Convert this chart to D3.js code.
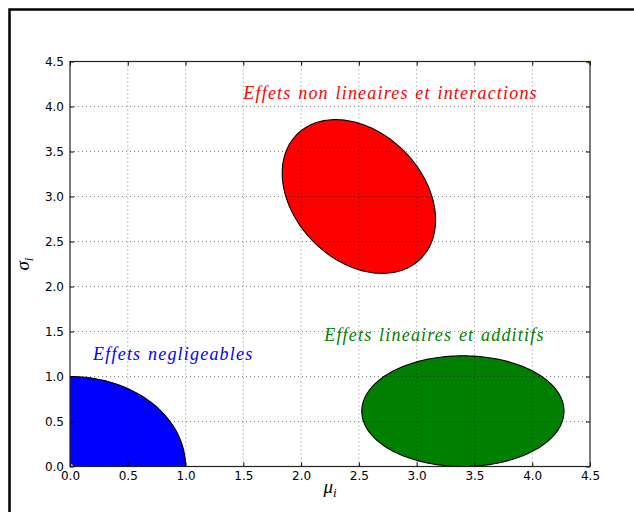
<!DOCTYPE html>
<html>
<head>
<meta charset="utf-8">
<script src="https://cdn.jsdelivr.net/npm/d3@7"></script>
<style>
  html, body { margin: 0; padding: 0; background: #fff; }
  svg { display: block; }
</style>
</head>
<body>
<svg id="chart" width="634" height="512"></svg>
<script>
// ---- data ----
const xTicks = [0.0, 0.5, 1.0, 1.5, 2.0, 2.5, 3.0, 3.5, 4.0, 4.5];
const yTicks = [0.0, 0.5, 1.0, 1.5, 2.0, 2.5, 3.0, 3.5, 4.0, 4.5];
const ellipseNames   = ["negligeables", "non lineaires", "lineaires"];
const ellipseCx      = [0.0, 2.5, 3.4];
const ellipseCy      = [0.0, 3.0, 0.615];
const ellipseWidth   = [2.0, 1.2, 1.75];
const ellipseHeight  = [2.0, 1.8, 1.23];
const ellipseAngle   = [0, 25, 0];
const ellipseColors  = ["#0000ff", "#ff0000", "#008000"];
const labelTexts  = ["Effets negligeables", "Effets non lineaires et interactions", "Effets lineaires et additifs"];
const labelX      = [0.2, 1.5, 2.2];
const labelY      = [1.18, 4.08, 1.4];
const labelColors = ["#0000ff", "#ff0000", "#008000"];
const cornerPointsX = [0.0, 4.5];
const cornerPointsY = [0.0, 4.5];

// ---- layout ----
const svg = d3.select("#chart");
const margin = {left: 70, top: 61.5, right: 44, bottom: 45.5};
const W = 634, H = 512;
const pw = W - margin.left - margin.right;   // 520
const ph = H - margin.top - margin.bottom;   // 405

const x = d3.scaleLinear().domain([0, 4.5]).range([margin.left, margin.left + pw]);
const y = d3.scaleLinear().domain([0, 4.5]).range([margin.top + ph, margin.top]);

// figure frame
svg.append("rect")
  .attr("x", 9.5).attr("y", 9.5)
  .attr("width", 640).attr("height", 520)
  .attr("fill", "none").attr("stroke", "#000").attr("stroke-width", 2.5);

svg.append("defs").append("clipPath").attr("id", "plotclip")
  .append("rect")
  .attr("x", margin.left).attr("y", margin.top)
  .attr("width", pw).attr("height", ph);

const plot = svg.append("g").attr("clip-path", "url(#plotclip)");

// ellipses
function ellipsePath(cx, cy, w, h, angDeg) {
  const th = angDeg * Math.PI / 180;
  const pts = d3.range(0, 361, 2).map(d => {
    const t = d * Math.PI / 180;
    const ex = (w / 2) * Math.cos(t), ey = (h / 2) * Math.sin(t);
    const dx = cx + ex * Math.cos(th) - ey * Math.sin(th);
    const dy = cy + ex * Math.sin(th) + ey * Math.cos(th);
    return [x(dx), y(dy)];
  });
  return d3.line().curve(d3.curveLinearClosed)(pts);
}
ellipseNames.forEach((n, i) => {
  plot.append("path")
    .attr("d", ellipsePath(ellipseCx[i], ellipseCy[i], ellipseWidth[i], ellipseHeight[i], ellipseAngle[i]))
    .attr("fill", ellipseColors[i])
    .attr("stroke", "#000").attr("stroke-width", 1.1);
});

// corner points (yellow markers)
cornerPointsX.forEach((cx, i) => {
  plot.append("circle")
    .attr("cx", x(cx)).attr("cy", y(cornerPointsY[i]))
    .attr("r", 3).attr("fill", "#bfbf00");
});

// grid (drawn above patches)
const grid = svg.append("g").attr("stroke", "#000").attr("stroke-width", 0.6)
  .attr("stroke-dasharray", "1,3").attr("opacity", 0.8);
xTicks.slice(1, -1).forEach(t => {
  grid.append("line").attr("x1", x(t)).attr("x2", x(t))
    .attr("y1", margin.top).attr("y2", margin.top + ph);
});
yTicks.slice(1, -1).forEach(t => {
  grid.append("line").attr("y1", y(t)).attr("y2", y(t))
    .attr("x1", margin.left).attr("x2", margin.left + pw);
});

// axes
const fmt = d3.format(".1f");
const axFont = "DejaVu Sans";
function styleAxis(g) {
  g.select(".domain").remove();
  g.selectAll(".tick line").attr("stroke", "#000").attr("stroke-width", 1);
  g.selectAll(".tick text").attr("font-family", axFont).attr("font-size", 12).attr("fill", "#000");
}
svg.append("g").attr("transform", `translate(0,${margin.top + ph})`)
  .call(d3.axisBottom(x).tickValues(xTicks).tickFormat(fmt).tickSize(-4).tickPadding(5))
  .call(styleAxis);
svg.append("g").attr("transform", `translate(${margin.left},0)`)
  .call(d3.axisLeft(y).tickValues(yTicks).tickFormat(fmt).tickSize(-4).tickPadding(6))
  .call(styleAxis);
svg.append("g").attr("transform", `translate(0,${margin.top})`)
  .call(d3.axisTop(x).tickValues(xTicks).tickFormat("").tickSize(-4))
  .call(styleAxis);
svg.append("g").attr("transform", `translate(${margin.left + pw},0)`)
  .call(d3.axisRight(y).tickValues(yTicks).tickFormat("").tickSize(-4))
  .call(styleAxis);

// spines
svg.append("rect")
  .attr("x", margin.left).attr("y", margin.top)
  .attr("width", pw).attr("height", ph)
  .attr("fill", "none").attr("stroke", "#222").attr("stroke-width", 1.2);

// annotations
labelTexts.forEach((t, i) => {
  svg.append("text")
    .attr("x", x(labelX[i])).attr("y", y(labelY[i]))
    .attr("font-family", "Liberation Serif").attr("font-style", "italic")
    .attr("font-size", 18).attr("letter-spacing", 1.2).attr("word-spacing", 1)
    .attr("fill", labelColors[i])
    .text(t);
});

// axis labels
const xl = svg.append("text")
  .attr("x", x(2.25)).attr("y", 493)
  .attr("text-anchor", "middle")
  .attr("font-family", "Liberation Serif").attr("font-style", "italic").attr("font-size", 19);
xl.append("tspan").text("μ");
xl.append("tspan").attr("font-size", 13).attr("dy", 4).text("i");

const yl = svg.append("text")
  .attr("transform", `translate(29,${y(2.25)}) rotate(-90)`)
  .attr("text-anchor", "middle")
  .attr("font-family", "Liberation Serif").attr("font-style", "italic").attr("font-size", 19);
yl.append("tspan").text("σ");
yl.append("tspan").attr("font-size", 13).attr("dy", 4).text("i");
</script>
</body>
</html>
